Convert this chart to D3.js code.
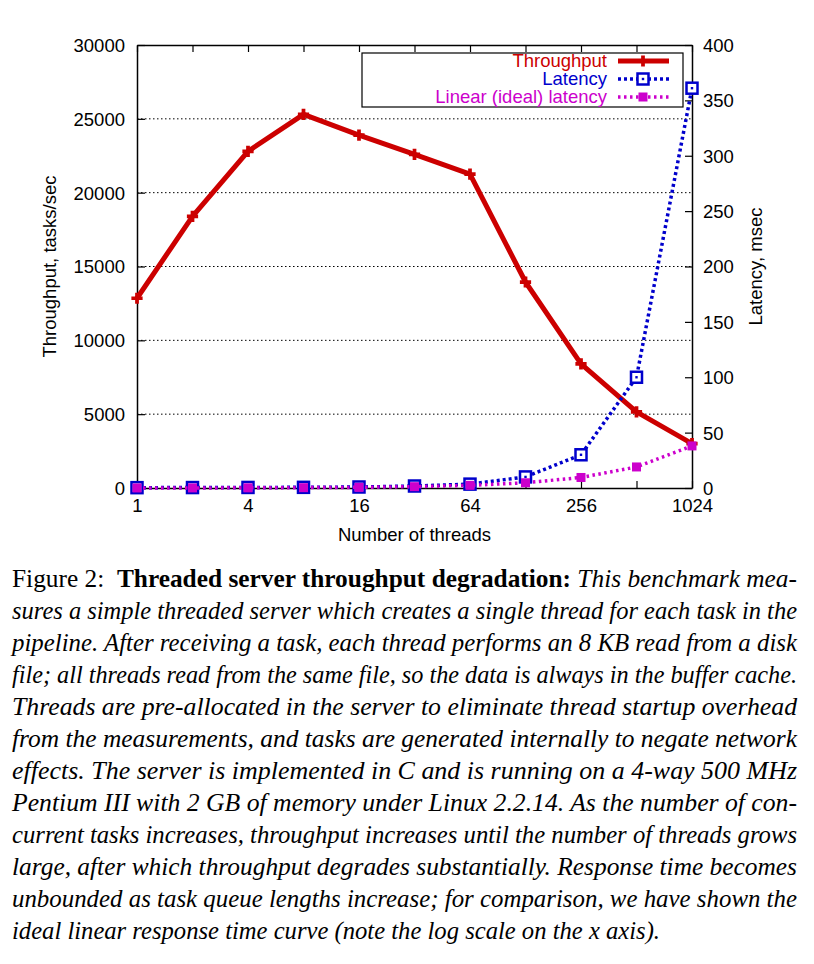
<!DOCTYPE html>
<html><head><meta charset="utf-8">
<script src="https://cdn.jsdelivr.net/npm/d3@7"></script>
<style>body{margin:0;background:#fff}svg{display:block}</style>
</head><body>
<svg id="c" width="814" height="964"></svg>
<script>
const threads = [1,2,4,8,16,32,64,128,256,512,1024];
const throughput = [12850,18400,22800,25300,23900,22600,21250,13950,8400,5150,3000];
const latency = [0.3,0.4,0.5,0.6,0.9,1.8,3.5,10,30,100,361];
const idealLatency = [0.04,0.07,0.15,0.3,0.6,1.2,2.4,4.7,9.5,19,38];
const xTickLabels = [1,4,16,64,256,1024];
const yLeftTicks = [0,5000,10000,15000,20000,25000,30000];
const yRightTicks = [0,50,100,150,200,250,300,350,400];
const legendLabels = ["Throughput","Latency","Linear (ideal) latency"];
const captionLines = [
 [["Figure 2:  ","normal","normal"],["Threaded server throughput degradation:","bold","normal"],[" This benchmark mea-","normal","italic"]],
 [["sures a simple threaded server which creates a single thread for each task in the","normal","italic"]],
 [["pipeline. After receiving a task, each thread performs an 8 KB read from a disk","normal","italic"]],
 [["file; all threads read from the same file, so the data is always in the buffer cache.","normal","italic"]],
 [["Threads are pre-allocated in the server to eliminate thread startup overhead","normal","italic"]],
 [["from the measurements, and tasks are generated internally to negate network","normal","italic"]],
 [["effects. The server is implemented in C and is running on a 4-way 500 MHz","normal","italic"]],
 [["Pentium III with 2 GB of memory under Linux 2.2.14. As the number of con-","normal","italic"]],
 [["current tasks increases, throughput increases until the number of threads grows","normal","italic"]],
 [["large, after which throughput degrades substantially. Response time becomes","normal","italic"]],
 [["unbounded as task queue lengths increase; for comparison, we have shown the","normal","italic"]],
 [["ideal linear response time curve (note the log scale on the x axis).","normal","italic"]]
];

const svg = d3.select("#c");
const L=137,R=692,T=45,B=488;
const x = d3.scaleLog().base(2).domain([1,1024]).range([L,R]);
const yL = d3.scaleLinear().domain([0,30000]).range([B,T]);
const yR = d3.scaleLinear().domain([0,400]).range([B,T]);
const font = "'Liberation Sans', Arial, Helvetica, sans-serif";
const fs = 18.5;
const red="#cc0000", blue="#0000cc", mag="#cc00cc";

// gridlines
svg.append("g").selectAll("line").data(yLeftTicks.filter(d=>d>0&&d<30000)).join("line")
 .attr("x1",L).attr("x2",R).attr("y1",d=>yL(d)).attr("y2",d=>yL(d))
 .attr("stroke","#000").attr("stroke-width",1).attr("stroke-dasharray","1.5,2.5");

// axes
const axL = d3.axisLeft(yL).tickValues(yLeftTicks).tickFormat(d3.format("d")).tickSizeInner(-8).tickSizeOuter(0).tickPadding(12);
const gL = svg.append("g").attr("transform",`translate(${L},0)`).call(axL);
const axR = d3.axisRight(yR).tickValues(yRightTicks).tickFormat(d3.format("d")).tickSizeInner(-7).tickSizeOuter(0).tickPadding(11);
const gR = svg.append("g").attr("transform",`translate(${R},0)`).call(axR);
const axB = d3.axisBottom(x).tickValues(threads).tickFormat(d=>xTickLabels.includes(d)?d:"").tickSizeInner(-7).tickSizeOuter(0).tickPadding(11);
const gB = svg.append("g").attr("transform",`translate(0,${B})`).call(axB);
const axT = d3.axisTop(x).tickValues(threads).tickFormat("").tickSizeInner(-7).tickSizeOuter(0);
const gT = svg.append("g").attr("transform",`translate(0,${T})`).call(axT);
[gL,gR,gB,gT].forEach(g=>{
 g.attr("font-family",null).attr("font-size",null);
 g.selectAll("text").attr("font-family",font).attr("font-size",fs).attr("fill","#000");
 g.selectAll("line").attr("stroke","#000").attr("stroke-width",1.2);
 g.select(".domain").attr("stroke","#000").attr("stroke-width",1.5);
});
gL.selectAll(".tick text").attr("dy","0.35em");
gR.selectAll(".tick text").attr("dy","0.35em");

// axis titles
svg.append("text").attr("transform",`translate(56,${(T+B)/2}) rotate(-90)`).attr("text-anchor","middle")
 .attr("font-family",font).attr("font-size",fs).text("Throughput, tasks/sec");
svg.append("text").attr("transform",`translate(762,${(T+B)/2}) rotate(-90)`).attr("text-anchor","middle")
 .attr("font-family",font).attr("font-size",fs).text("Latency, msec");
svg.append("text").attr("x",(L+R)/2).attr("y",541).attr("text-anchor","middle")
 .attr("font-family",font).attr("font-size",fs).text("Number of threads");

// series
const lineT = d3.line().x((d,i)=>x(threads[i])).y(d=>yL(d));
const lineR = d3.line().x((d,i)=>x(threads[i])).y(d=>yR(d));
const cross = d3.symbol().type(d3.symbolCross).size(70);

svg.append("path").datum(throughput).attr("d",lineT).attr("fill","none").attr("stroke",red).attr("stroke-width",5).attr("stroke-linejoin","round");
svg.append("g").selectAll("path").data(throughput).join("path").attr("d",cross)
 .attr("transform",(d,i)=>`translate(${x(threads[i])},${yL(d)})`).attr("fill",red);

svg.append("path").datum(latency).attr("d",lineR).attr("fill","none").attr("stroke",blue).attr("stroke-width",3.5).attr("stroke-dasharray","3,3");
const lg = svg.append("g").selectAll("g").data(latency).join("g").attr("transform",(d,i)=>`translate(${x(threads[i])},${yR(d)})`);
lg.append("rect").attr("x",-5.5).attr("y",-5.5).attr("width",11).attr("height",11).attr("fill","#fff").attr("stroke",blue).attr("stroke-width",2.5);
lg.append("rect").attr("x",-1.2).attr("y",-1.2).attr("width",2.4).attr("height",2.4).attr("fill",blue);

svg.append("path").datum(idealLatency).attr("d",lineR).attr("fill","none").attr("stroke",mag).attr("stroke-width",3.5).attr("stroke-dasharray","2.5,3.5");
svg.append("g").selectAll("rect").data(idealLatency).join("rect")
 .attr("x",(d,i)=>x(threads[i])-4.5).attr("y",d=>yR(d)-4.5).attr("width",9).attr("height",9).attr("fill",mag);

// legend
svg.append("rect").attr("x",362).attr("y",53).attr("width",321).attr("height",54).attr("fill","#fff").attr("stroke","#000").attr("stroke-width",1.2);
const ly=[61,79,97], lc=[red,blue,mag];
legendLabels.forEach((t,i)=>{
 svg.append("text").attr("x",607).attr("y",ly[i]).attr("dy","0.35em").attr("text-anchor","end")
  .attr("font-family",font).attr("font-size",fs).attr("fill",lc[i]).text(t);
});
svg.append("line").attr("x1",618).attr("x2",669).attr("y1",ly[0]).attr("y2",ly[0]).attr("stroke",red).attr("stroke-width",5);
svg.append("path").attr("d",cross).attr("transform",`translate(643,${ly[0]})`).attr("fill",red);
svg.append("line").attr("x1",618).attr("x2",669).attr("y1",ly[1]).attr("y2",ly[1]).attr("stroke",blue).attr("stroke-width",3.5).attr("stroke-dasharray","3,3");
svg.append("rect").attr("x",637.5).attr("y",ly[1]-5.5).attr("width",11).attr("height",11).attr("fill","#fff").attr("stroke",blue).attr("stroke-width",2.5);
svg.append("rect").attr("x",641.8).attr("y",ly[1]-1.2).attr("width",2.4).attr("height",2.4).attr("fill",blue);
svg.append("line").attr("x1",618).attr("x2",669).attr("y1",ly[2]).attr("y2",ly[2]).attr("stroke",mag).attr("stroke-width",3.5).attr("stroke-dasharray","2.5,3.5");
svg.append("rect").attr("x",638.5).attr("y",ly[2]-4.5).attr("width",9).attr("height",9).attr("fill",mag);

// caption
const cfont = "'Liberation Serif','Times New Roman',Times,serif";
captionLines.forEach((segs,i)=>{
 const t = svg.append("text").attr("x",12).attr("y",587+i*32).attr("font-family",cfont).attr("font-size",26).attr("fill","#000")
  .attr("xml:space","preserve").style("white-space","pre");
 segs.forEach(s=>t.append("tspan").attr("font-weight",s[1]).attr("font-style",s[2]).text(s[0]));
 const last = i===captionLines.length-1;
 t.attr("textLength", last?648:785).attr("lengthAdjust","spacingAndGlyphs");
});
</script>
</body></html>
